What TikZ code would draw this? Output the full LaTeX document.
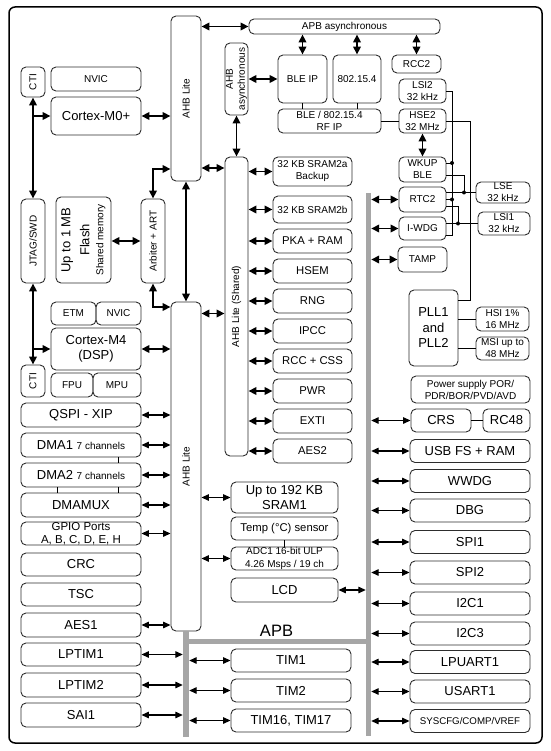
\documentclass[tikz,border=0pt]{standalone}
\usepackage{fontspec}
\setmainfont{Liberation Sans}
\usetikzlibrary{arrows.meta}
\definecolor{busgray}{RGB}{166, 166, 166}
\definecolor{edgegray}{RGB}{45, 45, 45}
\newcommand{\fsA}{\fontsize{13}{15}\selectfont}
\newcommand{\fsB}{\fontsize{11.3}{13}\selectfont}
\newcommand{\fsC}{\fontsize{10}{12}\selectfont}
\newcommand{\fsD}{\fontsize{16.5}{18}\selectfont}
\tikzset{
	blk/.style = {draw = edgegray, line width = 0.9pt, rounded corners = 5pt, inner sep = 0pt, align = center},
	bus/.style = {fill = busgray, draw = none, inner sep = 0pt},
	lnk/.style = {line width = 1.3pt, {Triangle[length=7.5pt,width=6.5pt]}-{Triangle[length=7.5pt,width=6.5pt]}},
	blnk/.style = {line width = 1.8pt, {Triangle[length=8pt,width=7.5pt]}-{Triangle[length=8pt,width=7.5pt]}},
	bone/.style = {line width = 1.8pt, -{Triangle[length=8pt,width=7.5pt]}},
	wire/.style = {line width = 0.9pt}
}
\begin{document}
\begin{tikzpicture}[x = 1pt, y = -1pt]
			\useasboundingbox (0,0) rectangle (550,751);
			\draw[line width = 1.5pt, rounded corners = 6pt] (9,7) rectangle (542,743);
			% buses
			\node (ahbA) at (186,98.5) [blk, minimum width = 30, minimum height = 165, label = {[rotate = 90, font = \fsC]center:AHB Lite}] {};
			\node (ahbB) at (186,466.5) [blk, minimum width = 30, minimum height = 329, label = {[rotate = 90, font = \fsC]center:AHB Lite}] {};
			\node (ahbS) at (236.5,306.5) [blk, minimum width = 23, minimum height = 299, label = {[rotate = 90, font = \fsC]center:AHB Lite (Shared)}] {};
			\node (ahbas) at (236.5,79) [blk, minimum width = 23, minimum height = 72, label = {[rotate = 90, font = \fsC, align = center]center:AHB\\asynchronous}] {};
			\node (apbas) at (344.5,26.5) [blk, minimum width = 191, minimum height = 15, font = \fsC] {APB asynchronous};
			\node (apbR) at (368.5,464.5) [bus, minimum width = 5, minimum height = 543] {};
			\node (apbH) at (276,641.5) [bus, minimum width = 180, minimum height = 5] {};
			\node (apbL) at (186,684) [bus, minimum width = 6, minimum height = 106] {};
			\node (apbtxt) at (276.5,631) [inner sep = 0pt, font = \fsD] {APB};
			% radio and clocks
			\node (bleip) at (302.5,79) [blk, minimum width = 49, minimum height = 48, font = \fsC] {BLE IP};
			\node (ieee) at (357,79) [blk, minimum width = 48, minimum height = 48, font = \fsC] {802.15.4};
			\node (rcc2) at (416.5,64) [blk, minimum width = 49, minimum height = 18, font = \fsC] {RCC2};
			\node (rfip) at (329.5,121) [blk, minimum width = 103, minimum height = 24, font = \fsC] {BLE / 802.15.4\\RF IP};
			\node (lsi2) at (422.5,91) [blk, minimum width = 47, minimum height = 24, font = \fsC] {LSI2\\32 kHz};
			\node (hse2) at (422.5,121) [blk, minimum width = 47, minimum height = 24, font = \fsC] {HSE2\\32 MHz};
			\node (wkup) at (422.5,169.5) [blk, minimum width = 47, minimum height = 25, font = \fsC] {WKUP\\BLE};
			\node (rtc2) at (422.5,199.5) [blk, minimum width = 47, minimum height = 25, font = \fsC] {RTC2};
			\node (iwdg) at (422.5,228.5) [blk, minimum width = 47, minimum height = 23, font = \fsC] {I-WDG};
			\node (tamp) at (422.5,259.5) [blk, minimum width = 49, minimum height = 25, font = \fsC] {TAMP};
			\node (lse) at (503,192.5) [blk, minimum width = 54, minimum height = 21, font = \fsC] {LSE\\32 kHz};
			\node (lsi1) at (504,223.5) [blk, minimum width = 52, minimum height = 23, font = \fsC] {LSI1\\32 kHz};
			\node (pll) at (433.5,328) [blk, minimum width = 49, minimum height = 76, font = \fontsize{13}{15.5}\selectfont] {PLL1\\and\\PLL2};
			\node (hsi) at (502.5,319) [blk, minimum width = 53, minimum height = 24, font = \fsC] {HSI 1\%\\16 MHz};
			\node (msi) at (502.5,348.5) [blk, minimum width = 53, minimum height = 23, font = \fsC] {MSI up to\\48 MHz};
			\node (pwrsup) at (470.5,389.5) [blk, minimum width = 119, minimum height = 27, font = \fsC] {Power supply POR/\\PDR/BOR/PVD/AVD};
			\node (crs) at (441,420.5) [blk, minimum width = 60, minimum height = 23, font = \fsA] {CRS};
			\node (rc48) at (506.5,420.5) [blk, minimum width = 47, minimum height = 23, font = \fsA] {RC48};
			% right column
			\node (usb) at (470,451) [blk, minimum width = 120, minimum height = 23, font = \fsA] {USB FS + RAM};
			\node (wwdg) at (470,481) [blk, minimum width = 120, minimum height = 23, font = \fsA] {WWDG};
			\node (dbg) at (470,510.5) [blk, minimum width = 120, minimum height = 23, font = \fsA] {DBG};
			\node (spi1) at (470,542) [blk, minimum width = 120, minimum height = 23, font = \fsA] {SPI1};
			\node (spi2) at (470,572.5) [blk, minimum width = 120, minimum height = 23, font = \fsA] {SPI2};
			\node (i2c1) at (470,603.5) [blk, minimum width = 120, minimum height = 23, font = \fsA] {I2C1};
			\node (i2c3) at (470,633.5) [blk, minimum width = 120, minimum height = 23, font = \fsA] {I2C3};
			\node (lpuart) at (470,662) [blk, minimum width = 120, minimum height = 23, font = \fsA] {LPUART1};
			\node (usart) at (470,691.5) [blk, minimum width = 120, minimum height = 23, font = \fsA] {USART1};
			\node (syscfg) at (470,721) [blk, minimum width = 120, minimum height = 23, font = \fontsize{9.7}{11}\selectfont] {SYSCFG/COMP/VREF};
			% shared bus column
			\node (sram2a) at (312.5,171.5) [blk, minimum width = 79, minimum height = 29, font = \fsC] {32 KB SRAM2a\\Backup};
			\node (sram2b) at (312.5,209.5) [blk, minimum width = 79, minimum height = 27, font = \fsC] {32 KB SRAM2b};
			\node (pka) at (312.5,241) [blk, minimum width = 79, minimum height = 24, font = \fsB] {PKA + RAM};
			\node (hsem) at (312.5,271) [blk, minimum width = 79, minimum height = 24, font = \fsB] {HSEM};
			\node (rng) at (312.5,301) [blk, minimum width = 79, minimum height = 24, font = \fsB] {RNG};
			\node (ipcc) at (312.5,331) [blk, minimum width = 79, minimum height = 24, font = \fsB] {IPCC};
			\node (rcccss) at (312.5,361) [blk, minimum width = 79, minimum height = 24, font = \fsB] {RCC + CSS};
			\node (pwr) at (312.5,391) [blk, minimum width = 79, minimum height = 24, font = \fsB] {PWR};
			\node (exti) at (312.5,421) [blk, minimum width = 79, minimum height = 24, font = \fsB] {EXTI};
			\node (aes2) at (312.5,451) [blk, minimum width = 79, minimum height = 24, font = \fsB] {AES2};
			\node (sram1) at (284.5,497.5) [blk, minimum width = 107, minimum height = 31, font = \fsA] {Up to 192 KB\\SRAM1};
			\node (temp) at (284.5,528.5) [blk, minimum width = 107, minimum height = 23, font = \fsB] {Temp (°C) sensor};
			\node (adc) at (284.5,558.5) [blk, minimum width = 107, minimum height = 23, font = \fontsize{10}{13}\selectfont] {ADC1 16-bit ULP\\4.26 Msps / 19 ch};
			\node (lcd) at (284.5,590) [blk, minimum width = 107, minimum height = 24, font = \fsA] {LCD};
			\node (tim1) at (291,660.5) [blk, minimum width = 120, minimum height = 23, font = \fsA] {TIM1};
			\node (tim2) at (291,690.5) [blk, minimum width = 120, minimum height = 23, font = \fsA] {TIM2};
			\node (tim16) at (291,720.5) [blk, minimum width = 120, minimum height = 23, font = \fsA] {TIM16, TIM17};
			% cores
			\node (cti1) at (33,82) [blk, minimum width = 24, minimum height = 30, label = {[rotate = 90, font = \fsC]center:CTI}] {};
			\node (nvic1) at (96,79) [blk, minimum width = 90, minimum height = 24, font = \fsC] {NVIC};
			\node (m0) at (96,116) [blk, minimum width = 90, minimum height = 38, font = \fsA] {Cortex-M0+};
			\node (jtag) at (33,241) [blk, minimum width = 24, minimum height = 84, label = {[rotate = 90, font = \fsC]center:JTAG/SWD}] {};
			\node (flash) at (83.5,240) [blk, minimum width = 55, minimum height = 86, label = {[rotate = 90, align = center, font = \fontsize{13}{19}\selectfont]center:{Up to 1 MB\\Flash\\[-5pt]{\fsC Shared memory}}}] {};
			\node (arb) at (153,241) [blk, minimum width = 24, minimum height = 84, label = {[rotate = 90, font = \fsC]center:Arbiter + ART}] {};
			\node (etm) at (73.5,313.5) [blk, minimum width = 45, minimum height = 23, font = \fsC] {ETM};
			\node (nvic2) at (118.5,313.5) [blk, minimum width = 45, minimum height = 23, font = \fsC] {NVIC};
			\node (m4) at (96,349) [blk, minimum width = 90, minimum height = 42, font = \fsA] {Cortex-M4\\(DSP)};
			\node (fpu) at (72,385) [blk, minimum width = 42, minimum height = 24, font = \fsC] {FPU};
			\node (mpu) at (117,385) [blk, minimum width = 48, minimum height = 24, font = \fsC] {MPU};
			\node (cti2) at (33,381) [blk, minimum width = 24, minimum height = 32, label = {[rotate = 90, font = \fsC]center:CTI}] {};
			% left column
			\node (qspi) at (81,415) [blk, minimum width = 120, minimum height = 24, font = \fsA] {QSPI - XIP};
			\node (dma1) at (81,445) [blk, minimum width = 120, minimum height = 24, font = \fsA] {DMA1 {\fsC 7 channels}};
			\node (dma2) at (81,475) [blk, minimum width = 120, minimum height = 24, font = \fsA] {DMA2 {\fsC 7 channels}};
			\node (dmamux) at (81,505) [blk, minimum width = 120, minimum height = 24, font = \fsA] {DMAMUX};
			\node (gpio) at (81,533.5) [blk, minimum width = 120, minimum height = 23, font = \fontsize{11.5}{13.5}\selectfont] {GPIO Ports\\A, B, C, D, E, H};
			\node (crc) at (81,564.5) [blk, minimum width = 120, minimum height = 23, font = \fsA] {CRC};
			\node (tsc) at (81,594.5) [blk, minimum width = 120, minimum height = 23, font = \fsA] {TSC};
			\node (aes1) at (81,625) [blk, minimum width = 120, minimum height = 24, font = \fsA] {AES1};
			\node (lptim1) at (81,654.5) [blk, minimum width = 120, minimum height = 23, font = \fsA] {LPTIM1};
			\node (lptim2) at (81,685) [blk, minimum width = 120, minimum height = 24, font = \fsA] {LPTIM2};
			\node (sai1) at (81,715) [blk, minimum width = 120, minimum height = 24, font = \fsA] {SAI1};
			% bus links, upper part
			\coordinate (ahbAS) at (213,168);
			\coordinate (arbtop) at (153,169);
			\coordinate (arbbot) at (153,307);
			\draw[blnk] (ahbA.east |- apbas.west) -- (apbas.west);
			\draw[blnk] (bleip.north |- apbas.south) -- (bleip.north);
			\draw[blnk] (ieee.north |- apbas.south) -- (ieee.north);
			\draw[blnk] (rcc2.north |- apbas.south) -- (rcc2.north);
			\draw[blnk] (ahbas.east) -- (bleip.west);
			\draw[blnk] (ahbas.south) -- (ahbS.north);
			\draw[blnk] (ahbAS -| ahbA.east) -- (ahbAS -| ahbS.west);
			\draw[blnk] (m0.east) -- (m0.east -| ahbA.west);
			\draw[blnk] (cti1.south) -- (jtag.north);
			\draw[bone] (cti1.south |- m0.west) -- (m0.west);
			\draw[blnk] (arb.north) -- (arbtop) -- (arbtop -| ahbA.west);
			\draw[blnk] (ahbA.south) -- (ahbB.north);
			\draw[blnk] (flash.east |- arb.west) -- (arb.west);
			\draw[blnk] (arb.south) -- (arbbot) -- (arbbot -| ahbB.west);
			\draw[blnk] (jtag.south) -- (cti2.north);
			\draw[bone] (jtag.south |- m4.west) -- (m4.west);
			\draw[blnk] (m4.east) -- (m4.east -| ahbB.west);
			\draw[blnk] (ahbB.east |- etm.east) -- (ahbS.west |- etm.east);
			\draw[blnk] (hse2.south) -- (wkup.north);
			\draw[blnk] (ahbS.east |- sram2a.west) -- (sram2a.west);
			\draw[blnk] (ahbS.east |- sram2b.west) -- (sram2b.west);
			\draw[blnk] (ahbS.east |- pka.west) -- (pka.west);
			\draw[blnk] (ahbS.east |- hsem.west) -- (hsem.west);
			\draw[blnk] (ahbS.east |- rng.west) -- (rng.west);
			\draw[blnk] (ahbS.east |- ipcc.west) -- (ipcc.west);
			\draw[blnk] (ahbS.east |- rcccss.west) -- (rcccss.west);
			\draw[blnk] (ahbS.east |- pwr.west) -- (pwr.west);
			\draw[blnk] (ahbS.east |- exti.west) -- (exti.west);
			\draw[blnk] (ahbS.east |- aes2.west) -- (aes2.west);
			\draw[blnk] (apbR.east |- rtc2.west) -- (rtc2.west);
			\draw[blnk] (apbR.east |- iwdg.west) -- (iwdg.west);
			\draw[blnk] (apbR.east |- tamp.west) -- (tamp.west);
			% bus links, lower part
			\draw[lnk] (qspi.east) -- (qspi.east -| ahbB.west);
			\draw[lnk] (dma1.east) -- (dma1.east -| ahbB.west);
			\draw[lnk] (dma2.east) -- (dma2.east -| ahbB.west);
			\draw[lnk] (dmamux.east) -- (dmamux.east -| ahbB.west);
			\draw[lnk] (gpio.east) -- (gpio.east -| ahbB.west);
			\draw[lnk] (aes1.east) -- (aes1.east -| ahbB.west);
			\draw[lnk] (ahbB.east |- sram1.west) -- (sram1.west);
			\draw[lnk] (ahbB.east |- adc.west) -- (adc.west);
			\draw[lnk] (lcd.east) -- (lcd.east -| apbR.west);
			\draw[lnk] (lptim1.east) -- (lptim1.east -| apbL.west);
			\draw[lnk] (lptim2.east) -- (lptim2.east -| apbL.west);
			\draw[lnk] (sai1.east) -- (sai1.east -| apbL.west);
			\draw[lnk] (apbL.east |- tim1.west) -- (tim1.west);
			\draw[lnk] (apbL.east |- tim2.west) -- (tim2.west);
			\draw[lnk] (apbL.east |- tim16.west) -- (tim16.west);
			\draw[lnk] (apbR.east |- crs.west) -- (crs.west);
			\draw[lnk] (apbR.east |- usb.west) -- (usb.west);
			\draw[lnk] (apbR.east |- wwdg.west) -- (wwdg.west);
			\draw[lnk] (apbR.east |- dbg.west) -- (dbg.west);
			\draw[lnk] (apbR.east |- spi1.west) -- (spi1.west);
			\draw[lnk] (apbR.east |- spi2.west) -- (spi2.west);
			\draw[lnk] (apbR.east |- i2c1.west) -- (i2c1.west);
			\draw[lnk] (apbR.east |- i2c3.west) -- (i2c3.west);
			\draw[lnk] (apbR.east |- lpuart.west) -- (lpuart.west);
			\draw[lnk] (apbR.east |- usart.west) -- (usart.west);
			\draw[lnk] (apbR.east |- syscfg.west) -- (syscfg.west);
			% plain joins
			\draw[wire] (bleip.south) -- (bleip.south |- rfip.north);
			\draw[wire] (ieee.south) -- (ieee.south |- rfip.north);
			\draw[wire] ([xshift = 37pt]dma1.south) -- ([xshift = 37pt]dma2.north);
			\draw[wire] ([xshift = -24pt]dma2.south) -- ([xshift = -24pt]dmamux.north);
			\draw[wire] ([xshift = 37pt]dma2.south) -- ([xshift = 37pt]dmamux.north);
			\draw[wire] (temp.south) -- (adc.north);
			\draw[wire] (crs.east) -- (rc48.west);
			% clock lines
			\coordinate (lsibus) at (452,235);
			\coordinate (dwk) at (452,163);
			\coordinate (drt) at (452,199.5);
			\coordinate (wkbend) at (464,175);
			\coordinate (dlse) at (464,192.5);
			\coordinate (rtbend) at (458,206);
			\coordinate (dlsi) at (458,223.5);
			\coordinate (hsebend) at (470,300);
			\draw[wire] (rfip.east) -- (hse2.west);
			\draw[wire] (hse2.east) -- (hse2.east -| hsebend) -- (hsebend) -- (hsebend -| pll.east);
			\draw[wire] (pll.east |- hsi.west) -- (hsi.west);
			\draw[wire] (pll.east |- msi.west) -- (msi.west);
			\draw[wire] (lsi2.east) -- (lsi2.east -| lsibus) -- (lsibus) -- (lsibus -| iwdg.east);
			\draw[wire] (dwk -| wkup.east) -- (dwk);
			\draw[wire] (rtc2.east) -- (drt);
			\draw[wire] (wkbend -| wkup.east) -- (wkbend) -- (dlse);
			\draw[wire] (lse.west -| rtc2.east) -- (lse.west);
			\draw[wire] (rtbend -| rtc2.east) -- (rtbend) -- (dlsi);
			\draw[wire] (lsi1.west -| iwdg.east) -- (lsi1.west);
			\fill (dwk) circle (2pt);
			\fill (drt) circle (2pt);
			\fill (dlse) circle (2pt);
			\fill (dlsi) circle (2pt);
\end{tikzpicture}
\end{document}
